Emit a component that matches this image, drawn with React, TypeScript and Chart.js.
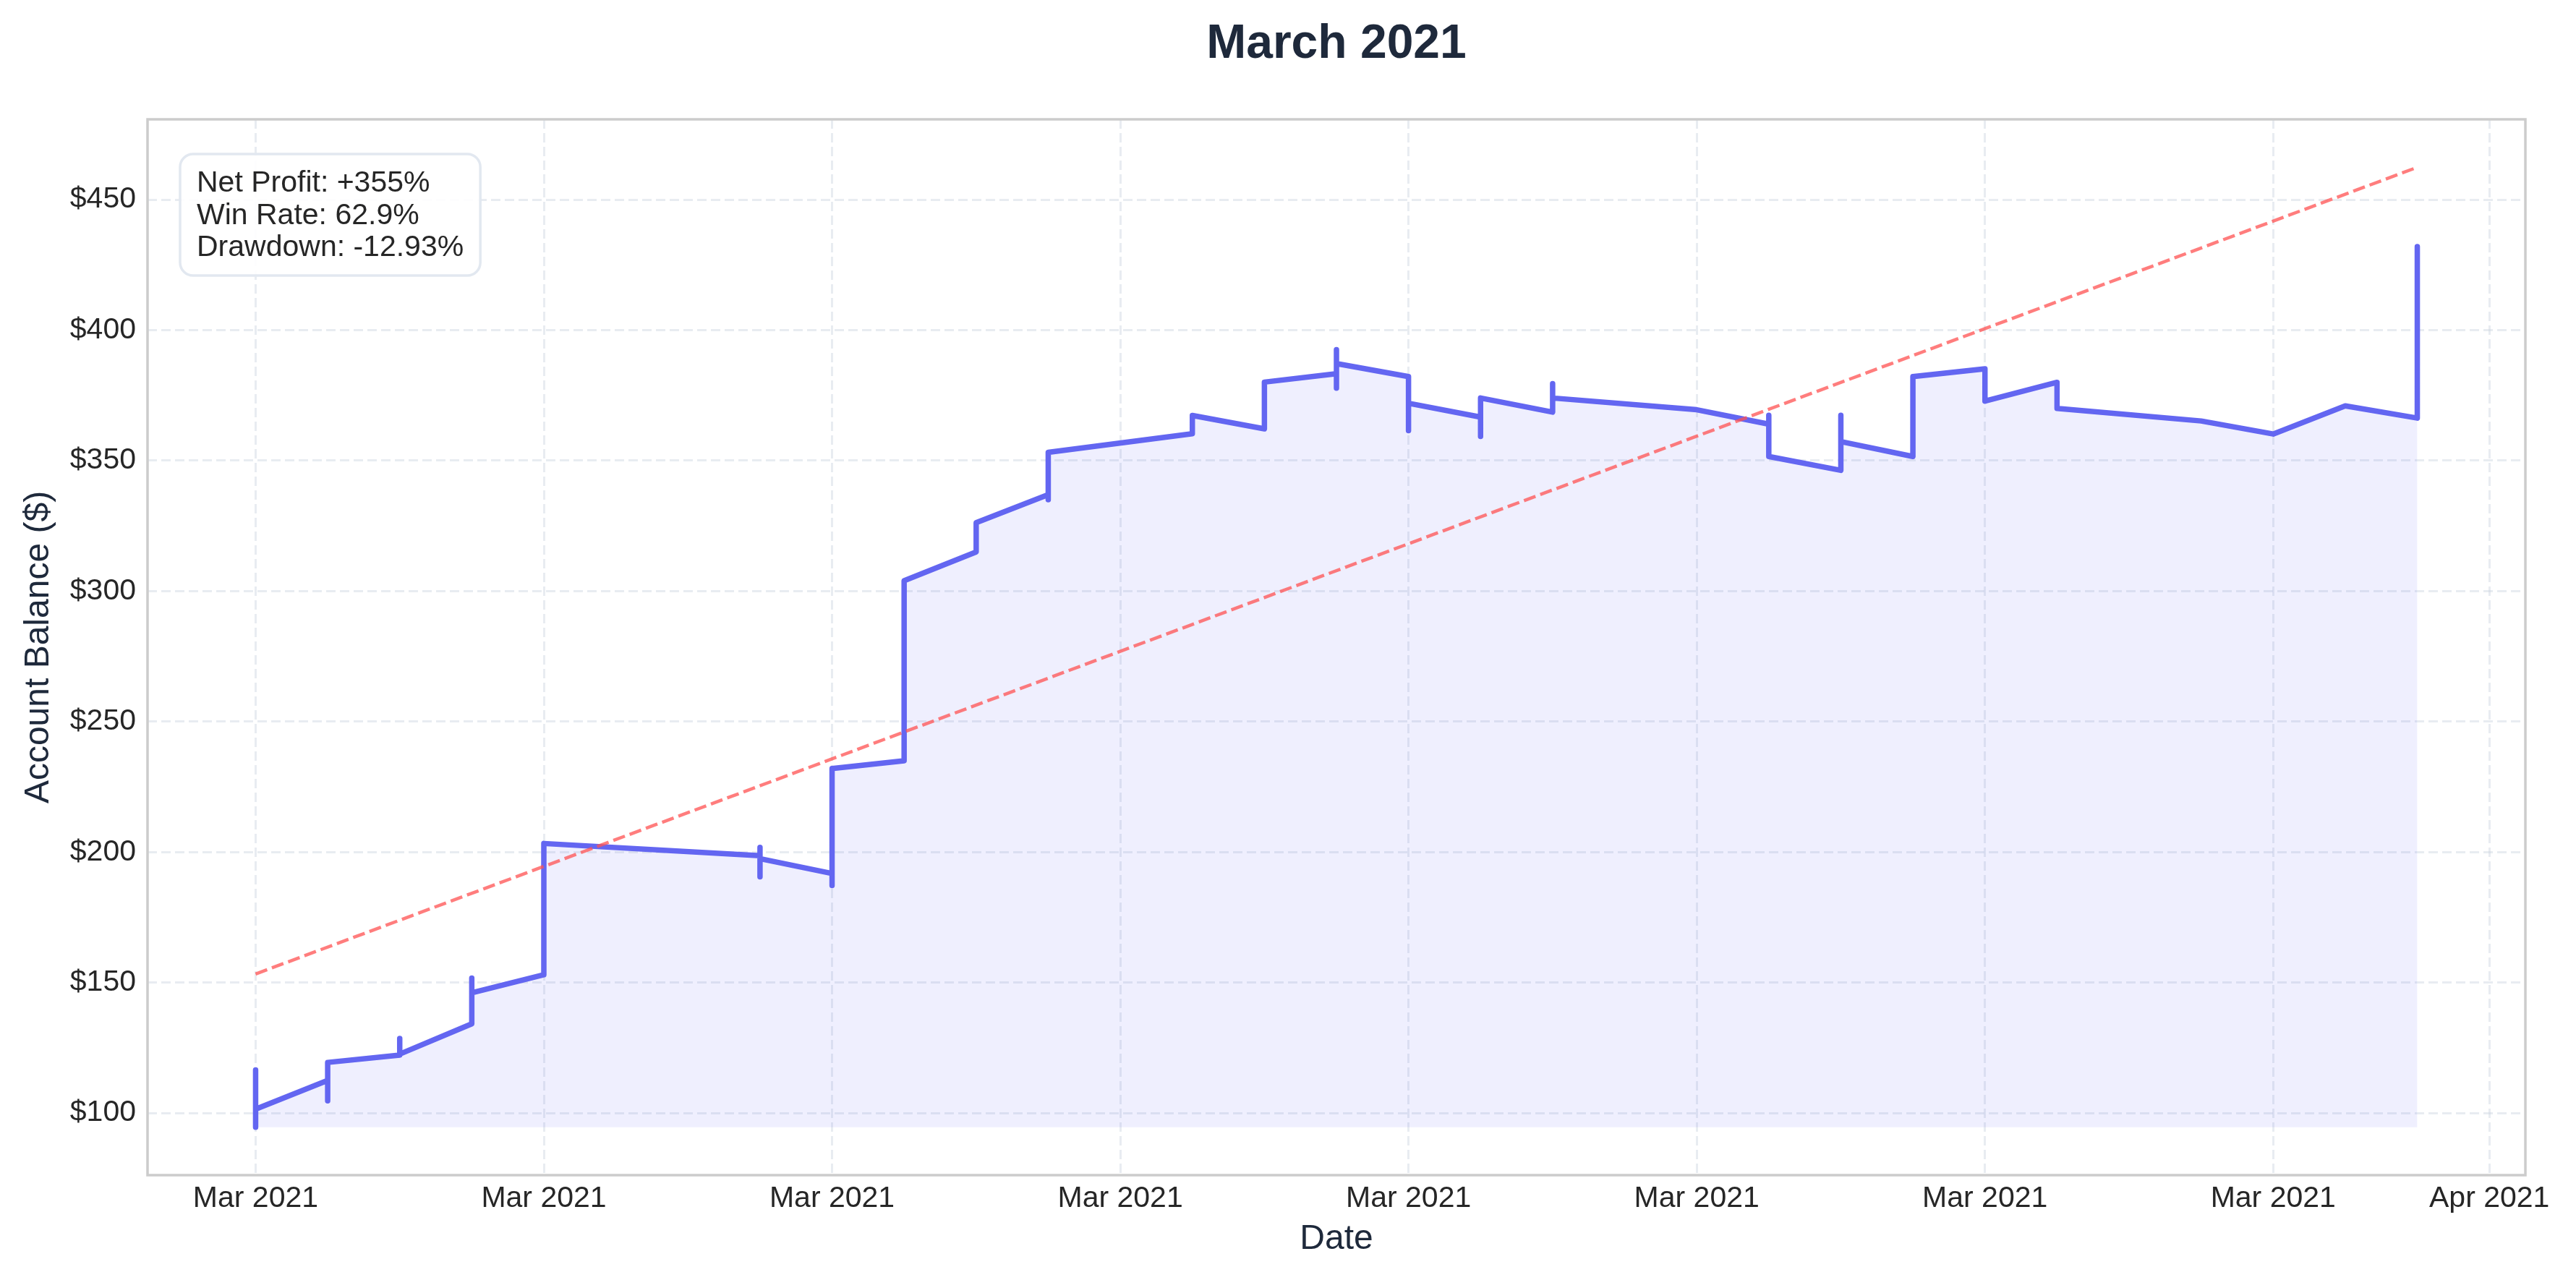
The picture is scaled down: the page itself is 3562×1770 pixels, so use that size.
import React, { useEffect, useRef } from 'react';
import { Chart, registerables } from 'chart.js';

Chart.register(...registerables);

// ---- data (day of March 2021, account balance in $) ----
const tradeDays = [
  1, 1, 1,
  2, 2, 2,
  3, 3, 3,
  4, 4, 4,
  5, 5,
  8, 8, 8, 8,
  9, 9, 9,
  10, 10,
  11, 11,
  12, 12, 12,
  14, 14,
  15, 15,
  16, 16, 16, 16,
  17, 17, 17,
  18, 18, 18,
  19, 19, 19,
  21,
  22, 22, 22,
  23, 23, 23,
  24, 24,
  25, 25,
  26, 26,
  28,
  29,
  30,
  31, 31,
];
const balances = [
  116.5, 94.6, 101.5,
  112.5, 104.7, 119.4,
  122.2, 128.6, 122.6,
  134.2, 151.7, 146.1,
  153.0, 203.3,
  198.6, 201.8, 190.5, 197.5,
  191.8, 187.2, 232.0,
  235.0, 304.0,
  315.0, 326.2,
  337.0, 335.0, 353.2,
  360.3, 367.3,
  362.2, 380.1,
  383.3, 392.5, 377.8, 387.2,
  382.2, 361.5, 372.0,
  366.7, 359.3, 374.0,
  368.6, 379.5, 374.0,
  369.5,
  364.0, 367.4, 351.6,
  346.3, 367.4, 357.3,
  351.6, 382.2,
  385.2, 372.8,
  380.0, 370.0,
  365.2,
  360.2,
  371.0,
  366.3, 432.0,
];
const trendDays = [1, 31];
const trendValues = [153.3, 462.4];

const xTickValues = [1, 5, 9, 13, 17, 21, 25, 29, 32];
const xTickLabels = ['Mar 2021', 'Mar 2021', 'Mar 2021', 'Mar 2021', 'Mar 2021', 'Mar 2021', 'Mar 2021', 'Mar 2021', 'Apr 2021'];
const yTickValues = [100, 150, 200, 250, 300, 350, 400, 450];

const chartTitle = 'March 2021';
const xAxisTitle = 'Date';
const yAxisTitle = 'Account Balance ($)';
const statsLines = ['Net Profit: +355%', 'Win Rate: 62.9%', 'Drawdown: -12.93%'];

// ---- style ----
const W = 3562;
const H = 1770;
const FONT = "'Liberation Sans', Arial, Helvetica, sans-serif";
const TICK_COLOR = '#262626';
const LABEL_COLOR = '#1e293b';
const GRID_COLOR = 'rgba(203,213,225,0.45)';

export default function App() {
  const ref = useRef<HTMLCanvasElement | null>(null);

  useEffect(() => {
    document.body.style.margin = '0';
    const canvas = ref.current;
    if (!canvas) return;

    const fillBase = Math.min(...balances);
    const allY = [...balances, ...trendValues];
    const yLo = Math.min(...allY);
    const yHi = Math.max(...allY);
    const yPad = (yHi - yLo) * 0.05;
    const xLo = Math.min(...tradeDays);
    const xHi = Math.max(...tradeDays);
    const xPad = (xHi - xLo) * 0.05;

    const overlay = {
      id: 'overlay',
      afterDraw(chart: any) {
        const { ctx, chartArea } = chart;
        const { left, right, top, bottom } = chartArea;
        ctx.save();
        // frame
        ctx.strokeStyle = '#cccccc';
        ctx.lineWidth = 3.5;
        ctx.strokeRect(left, top, right - left, bottom - top);

        // title
        ctx.fillStyle = LABEL_COLOR;
        ctx.font = `bold 66px ${FONT}`;
        ctx.textAlign = 'center';
        ctx.textBaseline = 'alphabetic';
        ctx.fillText(chartTitle, (left + right) / 2, 80);

        // stats box
        ctx.font = `41px ${FONT}`;
        let maxW = 0;
        for (const s of statsLines) maxW = Math.max(maxW, ctx.measureText(s).width);
        const bx = left + 45;
        const by = top + 48;
        const bw = maxW + 46;
        const bh = 168;
        const r = 18;
        ctx.beginPath();
        ctx.moveTo(bx + r, by);
        ctx.lineTo(bx + bw - r, by);
        ctx.arcTo(bx + bw, by, bx + bw, by + r, r);
        ctx.lineTo(bx + bw, by + bh - r);
        ctx.arcTo(bx + bw, by + bh, bx + bw - r, by + bh, r);
        ctx.lineTo(bx + r, by + bh);
        ctx.arcTo(bx, by + bh, bx, by + bh - r, r);
        ctx.lineTo(bx, by + r);
        ctx.arcTo(bx, by, bx + r, by, r);
        ctx.closePath();
        ctx.fillStyle = 'rgba(255,255,255,0.9)';
        ctx.fill();
        ctx.strokeStyle = '#e2e8f0';
        ctx.lineWidth = 3.5;
        ctx.stroke();

        ctx.fillStyle = TICK_COLOR;
        ctx.textAlign = 'left';
        statsLines.forEach((s, i) => {
          ctx.fillText(s, bx + 23, by + 52 + i * 44.5);
        });
        ctx.restore();
      },
    };

    const chart = new Chart(canvas, {
      type: 'line',
      data: {
        datasets: [
          {
            label: 'Trend',
            data: trendDays.map((d, i) => ({ x: d, y: trendValues[i] })),
            borderColor: 'rgba(255,82,82,0.75)',
            borderWidth: 4.5,
            borderDash: [17, 7],
            pointRadius: 0,
            fill: false,
            tension: 0,
          },
          {
            label: 'Balance',
            data: tradeDays.map((d, i) => ({ x: d, y: balances[i] })),
            borderColor: '#6366f1',
            borderWidth: 7.5,
            backgroundColor: 'rgba(99,102,241,0.1)',
            fill: { value: fillBase },
            pointRadius: 0,
            tension: 0,
            borderJoinStyle: 'round',
            borderCapStyle: 'round',
          },
        ],
      },
      options: {
        responsive: false,
        animation: false,
        events: [],
        layout: { padding: { top: 165, right: 70, bottom: 0, left: 0 } },
        plugins: {
          legend: { display: false },
          tooltip: { enabled: false },
          title: { display: false },
        },
        scales: {
          x: {
            type: 'linear',
            min: xLo - xPad,
            max: xHi + xPad,
            afterBuildTicks: (s: any) => {
              s.ticks = xTickValues.map((v) => ({ value: v }));
            },
            afterFit: (s: any) => {
              s.height = 145;
            },
            ticks: {
              autoSkip: false,
              maxRotation: 0,
              minRotation: 0,
              padding: 8,
              color: TICK_COLOR,
              font: { family: FONT, size: 41 },
              callback: (_v: any, i: number) => xTickLabels[i],
            },
            grid: { color: GRID_COLOR, lineWidth: 3, drawTicks: false },
            border: { display: false, dash: [13, 6] },
            title: {
              display: true,
              text: xAxisTitle,
              color: LABEL_COLOR,
              font: { family: FONT, size: 48 },
              padding: { top: 0, bottom: 27 },
            },
          },
          y: {
            type: 'linear',
            min: yLo - yPad,
            max: yHi + yPad,
            afterBuildTicks: (s: any) => {
              s.ticks = yTickValues.map((v) => ({ value: v }));
            },
            afterFit: (s: any) => {
              s.width = 204;
            },
            ticks: {
              padding: 16,
              color: TICK_COLOR,
              font: { family: FONT, size: 41 },
              callback: (v: any) => '$' + v,
            },
            grid: { color: GRID_COLOR, lineWidth: 3, drawTicks: false },
            border: { display: false, dash: [13, 6] },
            title: {
              display: true,
              text: yAxisTitle,
              color: LABEL_COLOR,
              font: { family: FONT, size: 48 },
              padding: { top: 25, bottom: 0 },
            },
          },
        },
      },
      plugins: [overlay],
    } as any);

    return () => chart.destroy();
  }, []);

  return (
    <div style={{ width: W, height: H, background: '#ffffff' }}>
      <canvas ref={ref} width={W} height={H} style={{ display: 'block', width: W, height: H }} />
    </div>
  );
}
